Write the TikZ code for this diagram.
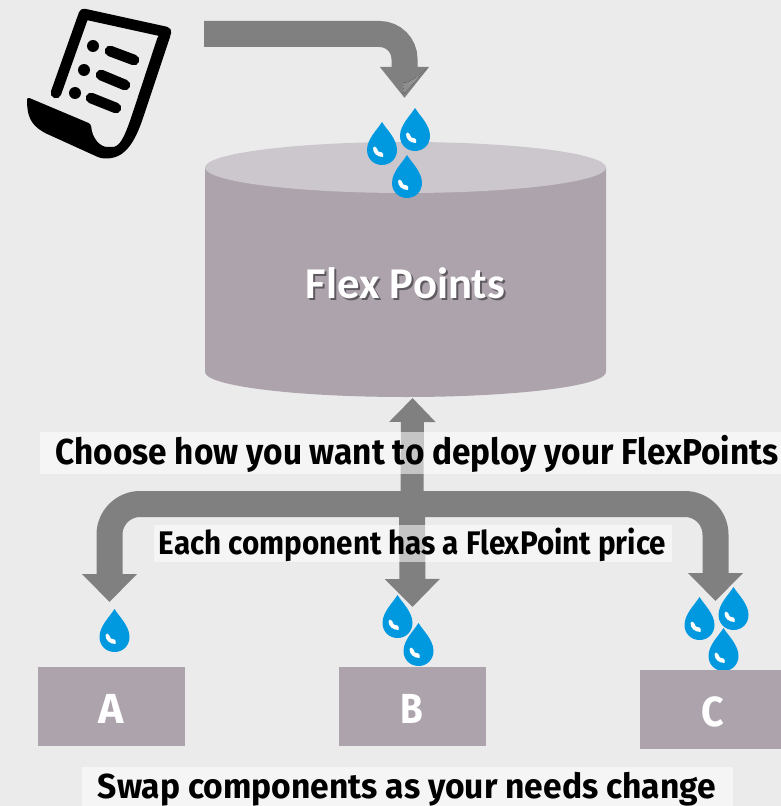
\documentclass[tikz,border=0pt]{standalone}
\usepackage{fontspec}
\usepackage{graphicx}
\setmainfont{Fira Sans}
\newfontfamily\flexfont{Carlito}
\usetikzlibrary{arrows.meta}
\definecolor{pagebg}{HTML}{EBEBEB}
\definecolor{slab}{HTML}{ADA3AC}
\definecolor{slabtop}{HTML}{CCC7CD}
\definecolor{arrowgrey}{HTML}{808080}
\definecolor{dropblue}{HTML}{0099E0}
\newcommand{\fitwd}[3]{\resizebox{#1pt}{\height}{\fontsize{#2pt}{#2pt}\selectfont\bfseries #3}}
\tikzset{
  blockup/.style={draw=arrowgrey,line width=17.25pt,-{Triangle[length=18pt,width=33.75pt]}},
  blockdown/.style={draw=arrowgrey,line width=19.5pt,line join=round,rounded corners=23pt,-{Triangle[length=21pt,width=40pt]}},
  feed/.style={draw=arrowgrey,line width=19.5pt,rounded corners=18.75pt,-{Triangle[length=23.25pt,width=35.25pt]}},
  labelbg/.style={fill=white,fill opacity=.55},
  compbox/.style={fill=slab,inner sep=0pt,minimum width=110.25pt,minimum height=59.25pt},
  caption/.style={anchor=base,inner sep=0pt,text=black},
  boxletter/.style={anchor=base,inner sep=0pt,text=white},
  drop/.pic={
    \fill[dropblue] (0,0) .. controls (5,8) and (15,17) .. (15,28) .. controls (15,37) and (8,43) .. (0,43) .. controls (-8,43) and (-15,37) .. (-15,28) .. controls (-15,17) and (-5,8) .. (0,0) -- cycle;
    \fill[white] (-9,26) .. controls (-9,31) and (-5,35) .. (1,35) .. controls (2,33) and (1,31) .. (0,30.5) .. controls (-3,31) and (-5,29) .. (-5.5,26) .. controls (-6,24) and (-9,24) .. (-9,26) -- cycle;
  }
}
\begin{document}
\begin{tikzpicture}[x=0.75pt,y=-0.75pt]
\useasboundingbox (0,0) rectangle (781,806);
\fill[pagebg] (0,0) rectangle (781,806);
% document icon
\draw[black,line width=8pt,line cap=round,line join=round] (56,93) -- (84,14) -- (166,32);
\fill[black,rounded corners=2pt] (158,36) -- (170,28) -- (171,34) -- (143,118) .. controls (132,150) and (120,160) .. (100,158) -- (45,133) .. controls (30,124) and (27,115) .. (27,97) -- (91,124) .. controls (92,138) and (100,147) .. (110,147) .. controls (120,147) and (125,135) .. (131,118) -- cycle;
\fill[black] (93,46) circle (6) (84,70) circle (6) (75,93) circle (6);
\draw[black,line width=8pt,line cap=round] (110,51) -- (134,60) (101,75) -- (125,85) (91,98) -- (116,108);
% cylinder
\fill[slab] (205,167.5) -- (205,372) arc[start angle=180,end angle=0,x radius=200.5,y radius=25] -- (606,167.5) -- cycle;
\fill[slabtop] (405.5,167.5) ellipse [x radius=200.5,y radius=25.5];
\node[boxletter,text=black!45!slab] at (407.5,300) {\flexfont\fitwd{149.25}{33}{Flex Points}};
\node[boxletter] (flex) at (405.5,298) {\flexfont\fitwd{149.25}{33}{Flex Points}};
% tokens
\path (382,122) pic {drop} (415,108) pic {drop} (407,155) pic {drop};
\path (114.5,609) pic {drop} (397.5,595) pic {drop} (418.5,623) pic {drop};
\path (699.5,597) pic {drop} (733.5,587) pic {drop} (723.5,628) pic {drop};
% connectors
\coordinate (feedstart) at (204,34);
\coordinate (feedend) at (404.5,98);
\coordinate (hub) at (412,504);
\coordinate (tipup) at (412.5,398);
\coordinate (tipa) at (109.5,602);
\coordinate (tipb) at (412.5,607);
\coordinate (tipc) at (715.5,601);
\draw[feed] (feedstart) -| (feedend);
\fill[left color=gray!90,middle color=white!75!gray,right color=gray!80] (404,94) -- (403,83) .. controls (412,82) and (419,75) .. (426,69) -- cycle;
\draw[blockup] (hub) -- (tipup);
\draw[blockdown] (hub) -| (tipa);
\draw[blockdown] (hub) -| (tipc);
\draw[blockdown] (hub) -- (tipb);
% captions
\fill[labelbg] (40,432) rectangle (781,474);
\fill[labelbg] (154,525) rectangle (672,562);
\fill[labelbg] (82,767) rectangle (733,806);
\node[caption] (choose) at (417,464) {\fitwd{542.25}{27}{Choose how you want to deploy your FlexPoints}};
\node[caption] (each) at (412.5,554) {\fitwd{380.25}{24.5}{Each component has a FlexPoint price}};
\node[caption] (swap) at (407,798) {\fitwd{463.5}{26}{Swap components as your needs change}};
% components
\node[compbox] (A) at (111.5,706.5) {};
\node[compbox] (B) at (412.5,706.5) {};
\node[compbox,minimum width=105.75pt] (C) at (710.5,709.5) {};
\node[boxletter] (la) at (111,723) {\fitwd{19}{31.5}{A}};
\node[boxletter] (lb) at (412,723) {\fitwd{17}{31.5}{B}};
\node[boxletter] (lc) at (713,726) {\fitwd{17}{31.5}{C}};
\end{tikzpicture}
\end{document}
